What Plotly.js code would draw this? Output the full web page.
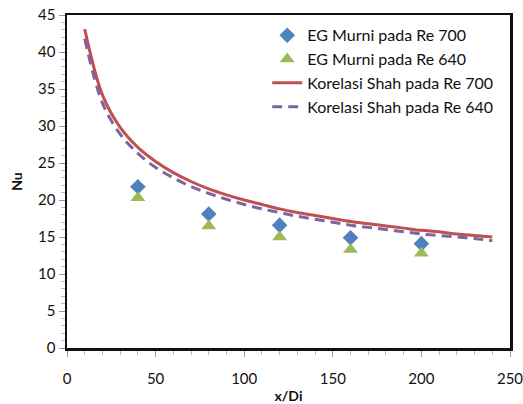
<!DOCTYPE html>
<html>
<head>
<meta charset="utf-8">
<script src="https://cdn.plot.ly/plotly-3.0.1.min.js"></script>
<style>
html,body{margin:0;padding:0;background:#fff;}
#chart{width:523px;height:404px;}
</style>
</head>
<body>
<div id="chart"></div>
<script>
// Experimental points (x/Di, Nu)
const expX = [40, 80, 120, 160, 200];
const egRe700 = [21.8, 18.1, 16.6, 14.9, 14.1];
const egRe640 = [20.3, 16.5, 15.0, 13.3, 12.8];

// Shah correlation curves
const shahX = [10, 20, 30, 40, 50, 60, 70, 80, 90, 100, 110, 120, 130, 140, 150, 160, 170, 180, 190, 200, 210, 220, 230, 240];
const shahRe700 = [43.1, 34.2, 29.8, 27.1, 25.2, 23.7, 22.5, 21.5, 20.7, 20.0, 19.4, 18.8, 18.3, 17.9, 17.5, 17.1, 16.8, 16.5, 16.2, 15.9, 15.7, 15.4, 15.2, 15.0];
const shahRe640 = [41.8, 33.1, 28.9, 26.3, 24.4, 23.0, 21.8, 20.9, 20.1, 19.4, 18.8, 18.3, 17.8, 17.4, 17.0, 16.6, 16.3, 16.0, 15.7, 15.4, 15.2, 15.0, 14.8, 14.5];

const names = ["EG Murni pada Re 700", "EG Murni pada Re 640", "Korelasi Shah pada Re 700", "Korelasi Shah pada Re 640"];

const FONT = "Lato, 'Open Sans', sans-serif";

const traces = [
  {x: expX, y: egRe700, name: names[0], mode: "markers", type: "scatter",
   marker: {symbol: "diamond", size: 12, color: "#4F81BD"}},
  {x: expX, y: egRe640, name: names[1], mode: "markers", type: "scatter",
   marker: {symbol: "triangle-up", size: 13, color: "#9BBB59"}},
  {x: shahX, y: shahRe700, name: names[2], mode: "lines", type: "scatter",
   line: {color: "#C0504D", width: 3, shape: "spline"}},
  {x: shahX, y: shahRe640, name: names[3], mode: "lines", type: "scatter",
   line: {color: "#8064A2", width: 3, dash: "10px,6px", shape: "spline"}}
];

const layout = {
  width: 523, height: 404,
  margin: {l: 67, r: 13, t: 15, b: 56},
  paper_bgcolor: "#fff", plot_bgcolor: "#fff",
  font: {family: FONT, size: 14, color: "#111"},
  showlegend: true,
  legend: {x: 0.452, y: 0.99, xanchor: "left", yanchor: "top",
           bgcolor: "rgba(0,0,0,0)", font: {family: FONT, size: 16, color: "#111"},
           tracegroupgap: 0},
  xaxis: {
    range: [0, 250], dtick: 50, tick0: 0,
    showgrid: false, zeroline: false,
    showline: true, mirror: true, linecolor: "#111", linewidth: 2.5,
    ticks: "outside", ticklen: 6, tickcolor: "#999", tickwidth: 1,
    minor: {dtick: 10, ticks: "outside", ticklen: 4, tickcolor: "#bbb"},
    ticklabeloverflow: "allow", ticklabelstandoff: 9,
    tickfont: {family: FONT, size: 15, color: "#111"},
    title: {text: "<b>x/Di</b>", font: {family: FONT, size: 14, color: "#111"}, standoff: 7}
  },
  yaxis: {
    range: [0, 45], dtick: 5, tick0: 0,
    showgrid: false, zeroline: false,
    showline: true, mirror: true, linecolor: "#111", linewidth: 2.5,
    ticks: "outside", ticklen: 6, tickcolor: "#999", tickwidth: 1,
    minor: {dtick: 1, ticks: "outside", ticklen: 4, tickcolor: "#bbb"},
    tickfont: {family: FONT, size: 15, color: "#111"},
    title: {text: "<b>Nu</b>", font: {family: FONT, size: 14, color: "#111"}, standoff: 12}
  }
};

Plotly.newPlot("chart", traces, layout, {displayModeBar: false, staticPlot: true});
</script>
</body>
</html>
